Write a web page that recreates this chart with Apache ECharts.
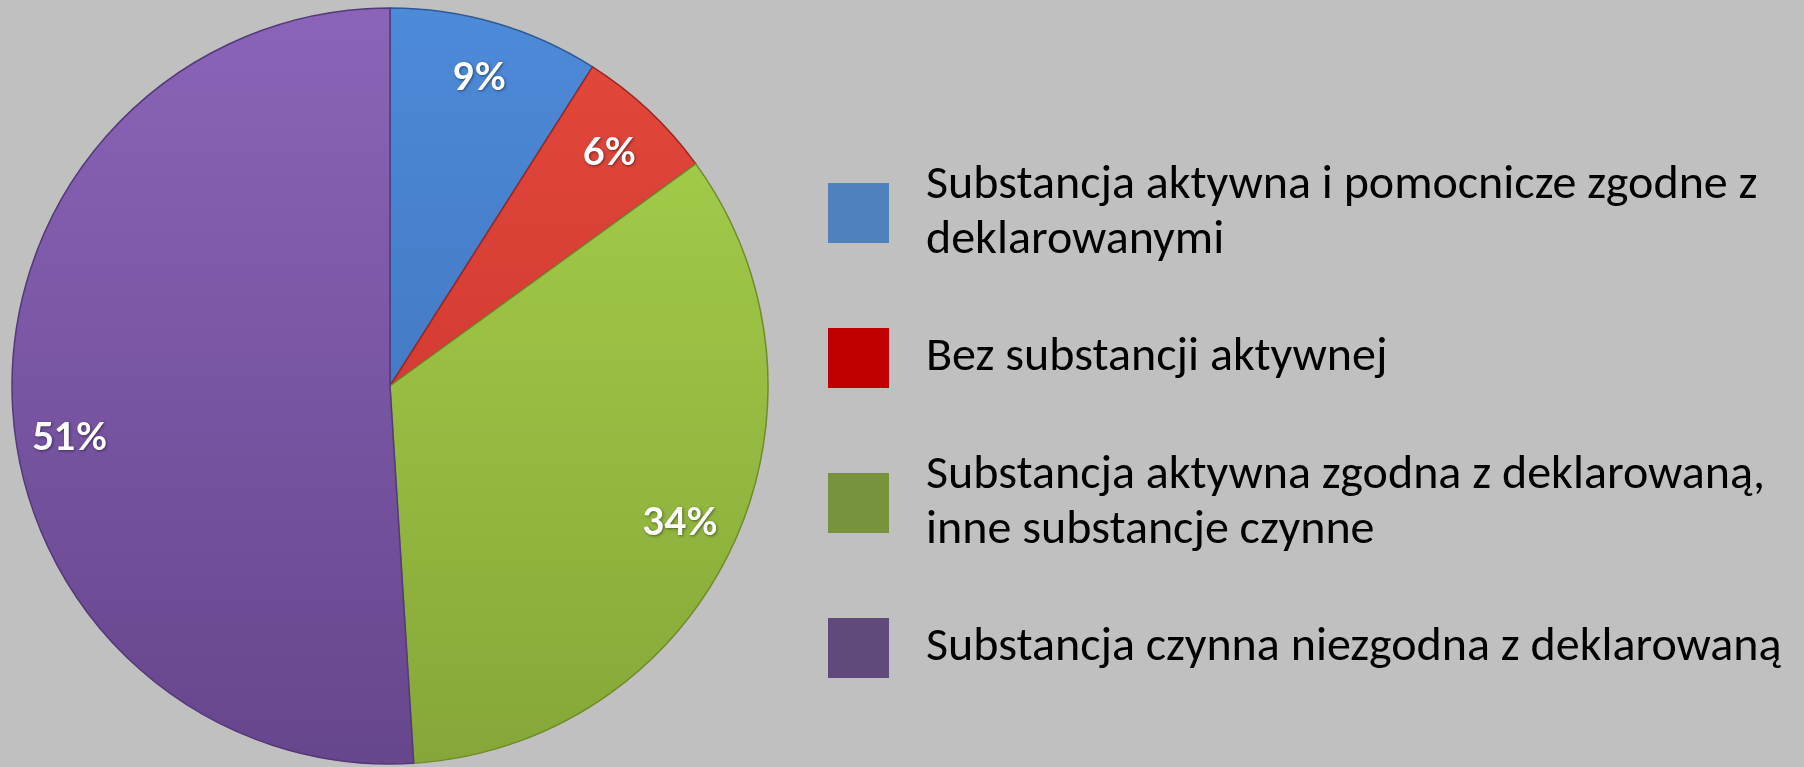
<!DOCTYPE html>
<html>
<head>
<meta charset="utf-8">
<script src="https://cdn.jsdelivr.net/npm/echarts@6/dist/echarts.min.js"></script>
<style>
html,body{margin:0;padding:0;background:#c0c0c0;}
#chart{width:1804px;height:767px;}
</style>
</head>
<body>
<div id="chart"></div>
<script>
// kategorie i udzialy (%)
var categories = [
	'Substancja aktywna i pomocnicze zgodne z deklarowanymi',
	'Bez substancji aktywnej',
	'Substancja aktywna zgodna z deklarowaną, inne substancje czynne',
	'Substancja czynna niezgodna z deklarowaną'
];
var values = [9, 6, 34, 51];
// podzial tekstu legendy na linie
var legendLines = [
	'Substancja aktywna i pomocnicze zgodne z\ndeklarowanymi',
	'Bez substancji aktywnej',
	'Substancja aktywna zgodna z deklarowaną,\ninne substancje czynne',
	'Substancja czynna niezgodna z deklarowaną'
];
// kolory wycinkow (gora / dol) i kolory legendy
var sliceTop = ['#4d8ad8', '#e4483c', '#a9d24c', '#8b64b9'];
var sliceBottom = ['#3a6cb2', '#c3302a', '#86a738', '#66468c'];
var sliceBorder = ['#2f5a96', '#9e2520', '#6f8c2c', '#54397a'];
var legendColors = ['#4f81bd', '#c00000', '#77933c', '#604a7b'];

var dom = document.getElementById('chart');
var myChart = echarts.init(dom);

var cx = 390, cy = 386, r = 378;

var pieData = categories.map(function(name, i){
	return {
		name: name,
		value: values[i],
		itemStyle: {
			color: new echarts.graphic.LinearGradient(0, cy - r, 0, cy + r, [
				{offset: 0, color: sliceTop[i]},
				{offset: 1, color: sliceBottom[i]}
			], true),
			borderColor: sliceBorder[i]
		}
	};
});

// niewidoczna seria tylko do etykiet (na ~0.84 promienia)
var labelData = categories.map(function(name, i){
	var d = {name: name, value: values[i]};
	if (i == 3) d.label = {offset: [0, 42]};
	return d;
});

var legendNames = {};
categories.forEach(function(c, i){ legendNames[c] = legendLines[i]; });

var option = {
	backgroundColor: '#c0c0c0',
	animation: false,
	legend: {
		orient: 'vertical',
		left: 823,
		top: 153,
		itemWidth: 61,
		itemHeight: 60,
		itemGap: 60,
		icon: 'rect',
		selectedMode: false,
		data: categories.map(function(c, i){
			return {name: c, itemStyle: {color: legendColors[i], borderWidth: 0}};
		}),
		formatter: function(name){ return legendNames[name]; },
		textStyle: {
			fontFamily: 'Carlito, Lato, sans-serif',
			fontSize: 48,
			lineHeight: 55,
			color: '#000',
			padding: [0, 0, 0, 32]
		}
	},
	series: [
		{
			name: 'udzial',
			type: 'pie',
			center: [cx, cy],
			radius: [0, r],
			startAngle: 90,
			clockwise: true,
			silent: true,
			label: {show: false},
			labelLine: {show: false},
			itemStyle: {borderWidth: 1.5},
			data: pieData
		},
		{
			name: 'etykiety',
			type: 'pie',
			center: [cx, cy],
			radius: [0, r * 1.68],
			startAngle: 90,
			clockwise: true,
			silent: true,
			itemStyle: {color: 'rgba(0,0,0,0)', borderWidth: 0},
			label: {
				show: true,
				position: 'inside',
				formatter: '{c}%',
				color: '#fff',
				fontFamily: 'Lato, sans-serif',
				fontWeight: 'bold',
				fontSize: 38,
				textShadowColor: 'rgba(0,0,0,0.45)',
				textShadowBlur: 3,
				textShadowOffsetX: 1,
				textShadowOffsetY: 1
			},
			labelLine: {show: false},
			data: labelData
		}
	]
};
myChart.setOption(option, true);
</script>
</body>
</html>
